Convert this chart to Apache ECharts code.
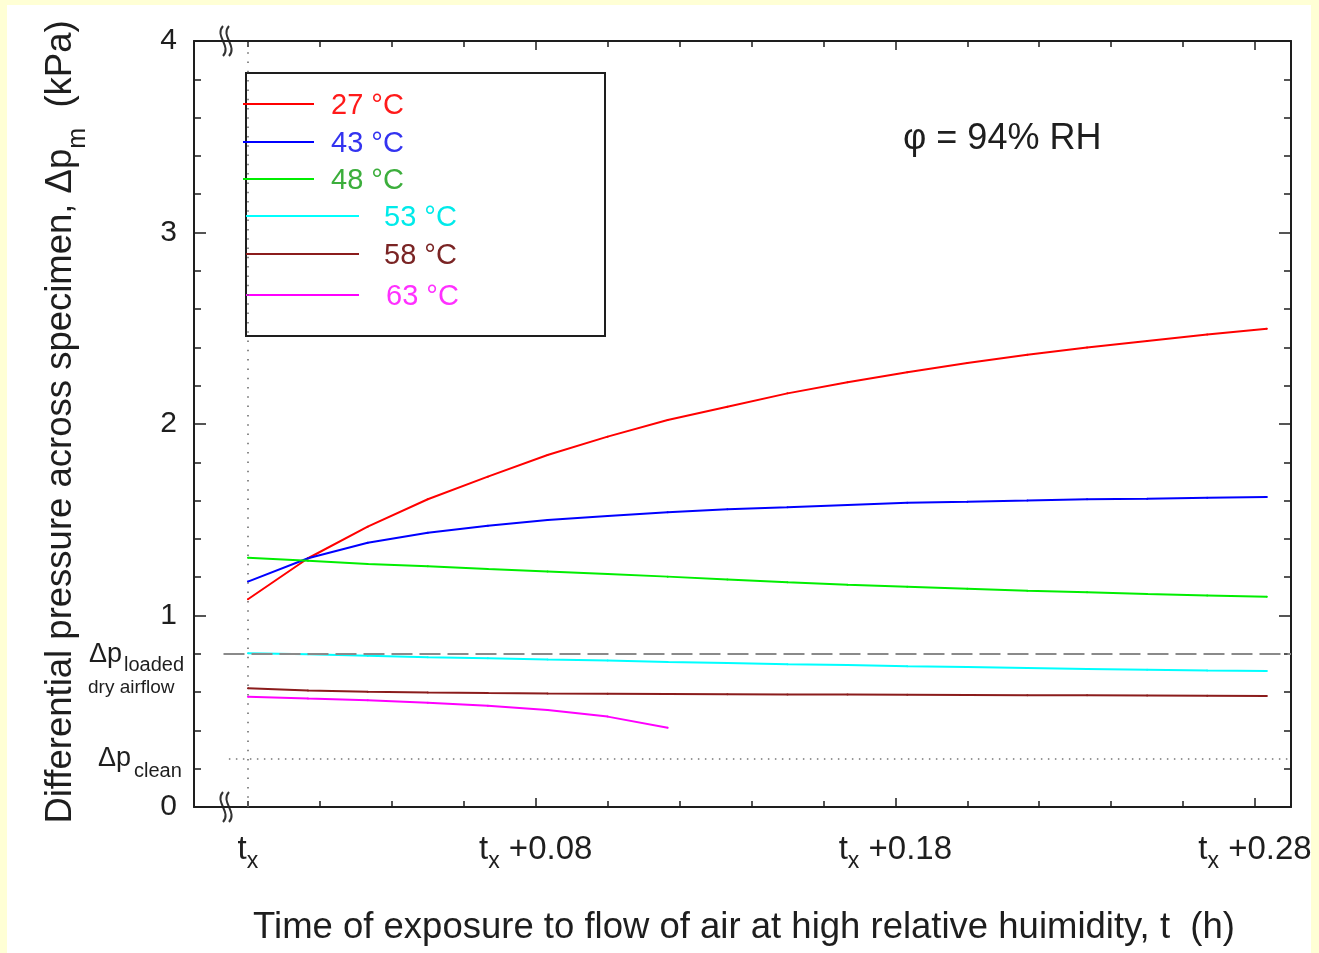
<!doctype html>
<html lang="en">
<head>
<meta charset="UTF-8">
<title>Differential pressure across specimen</title>
<script src="https://cdn.jsdelivr.net/npm/echarts@6/dist/echarts.min.js"></script>
<style>
    html, body { margin: 0; padding: 0; background: #ffffd5; }
    #chart { width: 1319px; height: 953px; }
</style>
</head>
<body>
<div id="chart"></div>
<script>
    // time after t_x (h), one reading per minute
    var timeH = [0, 0.0167, 0.0333, 0.05, 0.0667, 0.0833, 0.1, 0.1167, 0.1333,
        0.15, 0.1667, 0.1833, 0.2, 0.2167, 0.2333, 0.25, 0.2667, 0.2833];

    // differential pressure (kPa)
    var dp27 = [1.085, 1.299, 1.464, 1.607, 1.725, 1.838, 1.934, 2.021, 2.090,
        2.160, 2.218, 2.270, 2.318, 2.362, 2.400, 2.434, 2.467, 2.497];
    var dp43 = [1.177, 1.299, 1.380, 1.432, 1.469, 1.499, 1.520, 1.539, 1.555,
        1.565, 1.577, 1.589, 1.594, 1.600, 1.607, 1.610, 1.615, 1.619];
    var dp48 = [1.302, 1.286, 1.269, 1.257, 1.243, 1.230, 1.217, 1.203, 1.188,
        1.173, 1.161, 1.150, 1.140, 1.129, 1.121, 1.112, 1.105, 1.098];
    var dp53 = [0.803, 0.797, 0.790, 0.782, 0.777, 0.770, 0.765, 0.757, 0.752,
        0.746, 0.741, 0.735, 0.731, 0.726, 0.721, 0.717, 0.713, 0.710];
    var dp58 = [0.620, 0.608, 0.602, 0.598, 0.595, 0.593, 0.592, 0.590, 0.589,
        0.588, 0.587, 0.586, 0.585, 0.584, 0.583, 0.582, 0.581, 0.580];
    var dp63 = [0.576, 0.566, 0.557, 0.545, 0.529, 0.507, 0.472, 0.414];

    var seriesNames = ['27 °C', '43 °C', '48 °C', '53 °C', '58 °C', '63 °C'];
    var lineColors = ['#ff0000', '#0000ff', '#00ee00', '#00ffff', '#8b1c1c', '#ff00ff'];
    var textColors = ['#ff1a1a', '#3333f0', '#3cae3c', '#00eaea', '#7a2424', '#ff30ff'];

    var dpLoaded = 0.8;   // loaded, dry airflow
    var dpClean = 0.25;

    var xMajorTicks = [0.08, 0.18, 0.28];
    var xMinorTicks = [0, 0.02, 0.04, 0.06, 0.10, 0.12, 0.14, 0.16, 0.20, 0.22, 0.24, 0.26];
    var xLabels = [0, 0.08, 0.18, 0.28];

    var xMin = -0.015, xMax = 0.29;
    var font = 'Liberation Sans, Arial, sans-serif';
    var ink = '#1e1e1e';

    var chart = echarts.init(document.getElementById('chart'));

    function pairs(vals) {
        return vals.map(function (v, i) { return [timeH[i], v]; });
    }

    function xTickAxis(grid, pos, ticks, len, withLine) {
        return {
            type: 'value', gridIndex: grid, position: pos, min: xMin, max: xMax,
            axisLine: {show: withLine, onZero: false, lineStyle: {color: ink, width: 2}},
            axisTick: {show: true, inside: true, length: len, customValues: ticks,
                lineStyle: {color: ink, width: 1.5}},
            axisLabel: {show: false},
            splitLine: {show: false}
        };
    }

    function yFrameAxis(pos, labels) {
        return {
            type: 'value', gridIndex: 0, position: pos, min: 0, max: 4, interval: 1,
            axisLine: {show: true, onZero: false, lineStyle: {color: ink, width: 2}},
            axisTick: {show: true, inside: true, length: 12, lineStyle: {color: ink, width: 1.5}},
            minorTick: {show: true, splitNumber: 5, length: 7, lineStyle: {color: ink, width: 1.5}},
            axisLabel: {show: labels, margin: 17, color: ink, fontSize: 30, fontFamily: font},
            splitLine: {show: false}
        };
    }

    var bottomMajor = xTickAxis(0, 'bottom', xMajorTicks, 9, true);
    bottomMajor.axisLabel = {
        show: true, customValues: xLabels, margin: 26,
        formatter: function (v) {
            return v === 0 ? '{t|t}{s|x}' : '{t|t}{s|x}{t| +' + v.toFixed(2) + '}';
        },
        rich: {
            t: {fontSize: 33, fontFamily: font, color: ink, lineHeight: 34, verticalAlign: 'top'},
            s: {fontSize: 23, fontFamily: font, color: ink, lineHeight: 57}
        }
    };

    var lineSeries = [dp27, dp43, dp48, dp53, dp58, dp63].map(function (vals, i) {
        return {
            name: seriesNames[i], type: 'line', xAxisIndex: 0, yAxisIndex: 0,
            data: pairs(vals), showSymbol: true, symbol: 'circle', symbolSize: 2,
            lineStyle: {color: lineColors[i], width: 2},
            itemStyle: {color: lineColors[i]},
            silent: true, z: 3
        };
    });

    lineSeries.push({
        type: 'scatter', xAxisIndex: 0, yAxisIndex: 0, z: 4, silent: true,
        data: [[-0.0082, dpLoaded]],
        symbol: 'emptyCircle', symbolSize: 9,
        itemStyle: {color: '#fff', borderColor: '#333', borderWidth: 1.5},
        markLine: {
            silent: true, symbol: ['none', 'none'], label: {show: false},
            data: [
                [{coord: [-0.0068, dpLoaded], lineStyle: {color: '#8a8a8a', width: 2, type: [21, 7]}},
                    {coord: [xMax, dpLoaded]}],
                [{coord: [-0.0053, dpClean], lineStyle: {color: '#777', width: 1.5, type: [1.5, 5.5]}},
                    {coord: [xMax, dpClean]}],
                [{coord: [0, 0], lineStyle: {color: '#666', width: 1.5, type: [1.5, 7.8]}},
                    {coord: [0, 4]}]
            ]
        }
    });

    // legend box, drawn by hand like the original
    var legendRows = [
        {y: 104, x0: 243, x1: 314, tx: 331},
        {y: 142, x0: 243, x1: 314, tx: 331},
        {y: 179, x0: 243, x1: 314, tx: 331},
        {y: 216, x0: 246, x1: 359, tx: 384},
        {y: 254, x0: 246, x1: 359, tx: 384},
        {y: 295, x0: 246, x1: 359, tx: 386}
    ];
    var legendEls = [{
        type: 'rect', shape: {x: 246, y: 73, width: 359, height: 263},
        style: {fill: '#fff', stroke: ink, lineWidth: 2}
    }];
    legendRows.forEach(function (r, i) {
        legendEls.push({type: 'line', shape: {x1: r.x0, y1: r.y, x2: r.x1, y2: r.y},
            style: {stroke: lineColors[i], lineWidth: 2}});
        legendEls.push({type: 'text', x: r.tx, y: r.y + 2,
            style: {text: seriesNames[i], fill: textColors[i], fontSize: 29, fontFamily: font,
                align: 'left', verticalAlign: 'middle'}});
    });

    function breakMark(cx, cy) {
        return [-3, 3].map(function (d) {
            return {type: 'bezierCurve',
                shape: {x1: cx + d, y1: cy - 15, cpx1: cx + d - 9, cpy1: cy - 5,
                    cpx2: cx + d + 9, cpy2: cy + 5, x2: cx + d, y2: cy + 15},
                style: {stroke: '#333', lineWidth: 2, fill: null}};
        });
    }

    function txt(x, y, s, size) {
        return {type: 'text', x: x, y: y,
            style: {text: s, fill: ink, fontSize: size, fontFamily: font, align: 'left', verticalAlign: 'middle'}};
    }

    var graphics = [
        {type: 'rect', z: -10, shape: {x: 7, y: 5, width: 1304, height: 948}, style: {fill: '#fff'}},
        {type: 'group', z: 20, children: legendEls},
        {type: 'group', z: 20, children: breakMark(226, 41).concat(breakMark(226, 807))},
        {type: 'group', z: 20, children: [
            txt(903, 139, 'φ = 94% RH', 36),
            txt(89, 655, 'Δp', 27),
            txt(124, 665, 'loaded', 20),
            txt(88, 688, 'dry airflow', 19),
            txt(98, 759, 'Δp', 27),
            txt(134, 771, 'clean', 20),
            {type: 'text', x: 78, y: 422, rotation: Math.PI / 2,
                style: {text: '{a|Differential pressure across specimen, Δp}{b|m}{a|  (kPa)}',
                    align: 'center', verticalAlign: 'middle',
                    rich: {
                        a: {fontSize: 36.5, fontFamily: font, fill: ink, lineHeight: 40, verticalAlign: 'top'},
                        b: {fontSize: 25, fontFamily: font, fill: ink, lineHeight: 72}
                    }}},
            {type: 'text', x: 744, y: 928,
                style: {text: 'Time of exposure to flow of air at high relative huimidity, t  (h)',
                    fill: ink, fontSize: 36.5, fontFamily: font, align: 'center', verticalAlign: 'middle'}}
        ]}
    ];

    var option = {
        animation: false,
        grid: [
            {left: 194, right: 28, top: 41, bottom: 146},
            {left: 194, right: 28, top: 41, bottom: 146}
        ],
        xAxis: [
            bottomMajor,
            xTickAxis(0, 'top', xMajorTicks, 9, true),
            xTickAxis(1, 'bottom', xMinorTicks, 6, false),
            xTickAxis(1, 'top', xMinorTicks, 6, false)
        ],
        yAxis: [
            yFrameAxis('left', true),
            yFrameAxis('right', false),
            {type: 'value', gridIndex: 1, min: 0, max: 4, show: false}
        ],
        series: lineSeries,
        graphic: graphics
    };

    chart.setOption(option);
</script>
</body>
</html>
